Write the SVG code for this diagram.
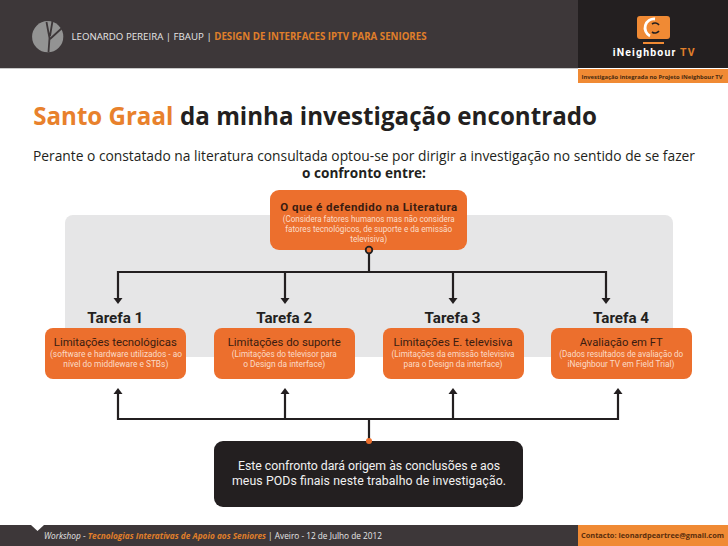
<svg xmlns="http://www.w3.org/2000/svg" width="728" height="546" viewBox="0 0 728 546">
<style>
.os{font-family:"Open Sans","Noto Sans","Liberation Sans",sans-serif}
.din{font-family:"Roboto","Liberation Sans",sans-serif}
.or{fill:#ec6f2d}
.line{fill:none;stroke:#231f20;stroke-width:2.2}
.t{font-weight:700;font-size:15px;fill:#231f20;text-anchor:middle}
.h{font-size:11.8px;fill:#3a1c10;text-anchor:middle}
.s{font-size:8.5px;fill:#fbdcc8;text-anchor:middle}
</style>
<rect width="728" height="546" fill="#fff"/>
<g id="header">
<rect width="728" height="68" fill="#3d3739"/>
<rect x="0" y="68" width="578" height="1" fill="#c8c8c8"/>
<rect x="578" width="150" height="68" fill="#231f20"/>
<rect x="578" y="69" width="150" height="14" fill="#f08a34"/>
<circle cx="47.700" cy="36.700" r="15.600" fill="#939393"/>
<path d="M48.500,52 L49.500,38 L46.500,22 M50,36 L52.500,21 M50,39 L62,28" fill="none" stroke="#3d3739" stroke-width="1.800"/>
<text class="os" x="71.500" y="40" font-size="9.700" fill="#e6e6e6" textLength="355" lengthAdjust="spacingAndGlyphs">LEONARDO PEREIRA | FBAUP | <tspan font-weight="700" fill="#e07f2a">DESIGN DE INTERFACES IPTV PARA SENIORES</tspan></text>
<rect x="637" y="16" width="33" height="23" rx="3" fill="#f08a34"/>
<rect x="643" y="42" width="21" height="2" fill="#f08a34"/>
<path d="M655,19 A9,9 0 0 0 650,36" fill="none" stroke="#fff" stroke-width="2.800"/>
<path d="M652,24 A5,5 0 0 1 659,25 M659,31 A5,5 0 0 1 652,32" fill="none" stroke="#231f20" stroke-width="1.600"/>
<text class="din" x="612.700" y="56" font-size="10.500" font-weight="700" fill="#fff" textLength="82" lengthAdjust="spacing">iNeighbour <tspan fill="#e07f2a">TV</tspan></text>
<text class="os" x="581.500" y="78.500" font-size="5.700" font-weight="700" fill="#4a2a10" textLength="141" lengthAdjust="spacingAndGlyphs">Investigação integrada no Projeto iNeighbour TV</text>
</g>
<g id="heading">
<text class="os" x="33.300" y="125" font-size="25" font-weight="700" fill="#e8812c" textLength="140" lengthAdjust="spacingAndGlyphs">Santo Graal</text>
<text class="os" x="180" y="125" font-size="25" font-weight="700" fill="#231f20" textLength="417" lengthAdjust="spacingAndGlyphs">da minha investigação encontrado</text>
<text class="os" x="33" y="161" font-size="13.800" fill="#231f20" textLength="662" lengthAdjust="spacingAndGlyphs">Perante o constatado na literatura consultada optou-se por dirigir a investigação no sentido de se fazer</text>
<text class="os" x="364" y="177.500" font-size="13.500" font-weight="700" fill="#231f20" text-anchor="middle" textLength="124" lengthAdjust="spacingAndGlyphs">o confronto entre:</text>
</g>
<rect id="panel" x="65" y="215" width="608" height="142" rx="8" fill="#e6e6e7"/>
<g id="connectors">
<path class="line" d="M369,250 V272 M118,300 V272 H606 V300 M285,272 V300 M453,272 V300"/>
<path class="line" d="M118,392 V419 H618 V392 M285,419 V392 M453,419 V392 M369,419 V441"/>
<g fill="#231f20">
<path d="M113.500,298 H122.500 L118,304 Z"/><path d="M280.500,298 H289.500 L285,304 Z"/><path d="M448.500,298 H457.500 L453,304 Z"/><path d="M601.500,298 H610.500 L606,304 Z"/>
<path d="M113.500,394 H122.500 L118,388 Z"/><path d="M280.500,394 H289.500 L285,388 Z"/><path d="M448.500,394 H457.500 L453,388 Z"/><path d="M613.500,394 H622.500 L618,388 Z"/>
</g>
</g>
<g id="literatura">
<rect class="or" x="270" y="190" width="197" height="60" rx="9"/>
<text class="din" x="368.700" y="211" font-size="11.500" font-weight="700" fill="#3a1c10" text-anchor="middle" textLength="177" lengthAdjust="spacing">O que é defendido na Literatura</text>
<text class="din s" x="368.700" y="222" textLength="172" lengthAdjust="spacingAndGlyphs">(Considera fatores humanos mas não considera</text>
<text class="din s" x="368.700" y="232" textLength="167" lengthAdjust="spacingAndGlyphs">fatores tecnológicos, de suporte e da emissão</text>
<text class="din s" x="368.700" y="242" textLength="37" lengthAdjust="spacingAndGlyphs">televisiva)</text>
<circle cx="369" cy="250" r="3.300" fill="#ec6f2d" stroke="#231f20" stroke-width="1.800"/>
</g>
<g id="tarefa1">
<text class="din t" x="115.300" y="322.700" textLength="56" lengthAdjust="spacingAndGlyphs">Tarefa 1</text>
<rect class="or" x="45" y="328" width="141" height="51" rx="8"/>
<text class="din h" x="115.300" y="346" textLength="123" lengthAdjust="spacingAndGlyphs">Limitações tecnológicas</text>
<text class="din s" x="116" y="356.500" textLength="132" lengthAdjust="spacingAndGlyphs">(software e hardware utilizados - ao</text>
<text class="din s" x="115.800" y="366.500" textLength="105" lengthAdjust="spacingAndGlyphs">nível do middleware e STBs)</text>
</g>
<g id="tarefa2">
<text class="din t" x="284.200" y="322.700" textLength="56" lengthAdjust="spacingAndGlyphs">Tarefa 2</text>
<rect class="or" x="214" y="328" width="141" height="51" rx="8"/>
<text class="din h" x="284.200" y="346" textLength="113" lengthAdjust="spacingAndGlyphs">Limitações do suporte</text>
<text class="din s" x="284.300" y="356.500" textLength="105" lengthAdjust="spacingAndGlyphs">(Limitações do televisor para</text>
<text class="din s" x="284.200" y="366.500" textLength="82" lengthAdjust="spacingAndGlyphs">o Design da interface)</text>
</g>
<g id="tarefa3">
<text class="din t" x="452.500" y="322.700" textLength="56" lengthAdjust="spacingAndGlyphs">Tarefa 3</text>
<rect class="or" x="383" y="328" width="141" height="51" rx="8"/>
<text class="din h" x="453" y="346" textLength="119" lengthAdjust="spacingAndGlyphs">Limitações E. televisiva</text>
<text class="din s" x="453" y="356.500" textLength="123" lengthAdjust="spacingAndGlyphs">(Limitações da emissão televisiva</text>
<text class="din s" x="453" y="366.500" textLength="99" lengthAdjust="spacingAndGlyphs">para o Design da interface)</text>
</g>
<g id="tarefa4">
<text class="din t" x="621" y="322.700" textLength="56" lengthAdjust="spacingAndGlyphs">Tarefa 4</text>
<rect class="or" x="551" y="328" width="141" height="51" rx="8"/>
<text class="din h" x="621.300" y="346" textLength="83" lengthAdjust="spacingAndGlyphs">Avaliação em FT</text>
<text class="din s" x="621.200" y="356.500" textLength="124" lengthAdjust="spacingAndGlyphs">(Dados resultados de avaliação do</text>
<text class="din s" x="621" y="366.500" textLength="107" lengthAdjust="spacingAndGlyphs">iNeighbour TV em Field Trial)</text>
</g>
<g id="conclusao">
<rect x="214" y="441" width="309" height="66" rx="9" fill="#231f20"/>
<text class="din" x="369" y="470" font-size="12.300" fill="#f1f1f1" text-anchor="middle" textLength="262" lengthAdjust="spacing">Este confronto dará origem às conclusões e aos</text>
<text class="din" x="369" y="485" font-size="12.300" fill="#f1f1f1" text-anchor="middle" textLength="274" lengthAdjust="spacing">meus PODs finais neste trabalho de investigação.</text>
<circle cx="369" cy="441" r="3" fill="#ec6f2d"/>
</g>
<g id="footer">
<rect y="525" width="728" height="21" fill="#3d3739"/>
<path d="M31,525 H44 L37.500,531 Z" fill="#fff"/>
<rect x="578" y="525" width="150" height="21" fill="#f08a34"/>
<text class="os" x="44" y="538.500" font-size="8.300" fill="#e6e6e6" textLength="338" lengthAdjust="spacingAndGlyphs"><tspan font-style="italic">Workshop</tspan>  - <tspan font-style="italic" font-weight="700" fill="#e07f2a">Tecnologias Interativas de Apoio aos Seniores</tspan> |  Aveiro - 12 de Julho de 2012</text>
<text class="os" x="581" y="538" font-size="7.600" font-weight="700" fill="#5a2d0c" textLength="143" lengthAdjust="spacingAndGlyphs">Contacto: leonardpeartree@gmail.com</text>
</g>
</svg>
